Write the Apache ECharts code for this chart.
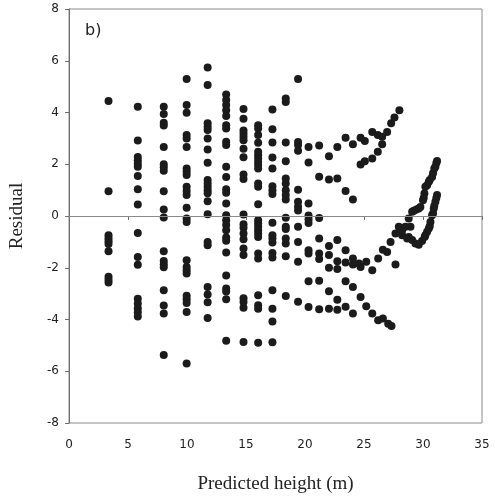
<!DOCTYPE html>
<html>
<head>
<meta charset="utf-8">
<script src="https://cdn.jsdelivr.net/npm/echarts@6/dist/echarts.min.js"></script>
<style>
  html, body { margin: 0; padding: 0; background: #fff; }
  #chart { width: 495px; height: 499px; }
</style>
</head>
<body>
<div id="chart"></div>
<script>
// Predicted heights of the discrete stand classes and their residuals (m)
const stripHeights = [3.35, 5.83, 8.03, 9.97, 11.75, 13.32, 14.79, 16.03, 17.24, 18.37, 19.41, 20.3, 21.2, 22.03, 22.74];
const stripResiduals = [
  [4.44, 0.96, -0.74, -0.86, -0.98, -1.08, -1.36, -2.35, -2.46, -2.57],
  [4.22, 2.92, 2.28, 2.15, 2.02, 1.9, 1.55, 1.03, 0.44, -0.66, -1.58, -1.88, -3.2, -3.38, -3.57, -3.72, -3.88],
  [4.22, 3.94, 3.6, 3.5, 2.67, 2.0, 1.88, 1.75, 0.96, 0.25, -0.06, -1.36, -1.74, -1.86, -1.98, -2.87, -3.46, -3.77, -5.37],
  [5.29, 4.29, 3.99, 3.13, 3.0, 2.67, 1.84, 1.71, 1.58, 1.13, 0.97, 0.81, 0.32, -0.1, -0.23, -1.71, -1.97, -2.1, -2.22, -3.08, -3.22, -3.36, -3.71, -5.7],
  [5.74, 5.06, 3.58, 3.45, 3.32, 3.0, 2.57, 2.06, 1.39, 1.26, 1.13, 1.0, 0.88, 0.57, 0.07, -1.0, -1.13, -2.74, -3.03, -3.33, -3.94],
  [4.7, 4.48, 4.29, 4.09, 3.86, 3.51, 3.38, 2.87, 2.74, 1.9, 1.51, 1.03, 0.9, 0.48, 0.03, -0.16, -0.35, -0.55, -0.83, -0.96, -1.41, -2.3, -2.8, -2.92, -3.22, -4.82],
  [4.14, 3.76, 3.3, 3.18, 3.05, 2.93, 2.6, 2.27, 1.6, 1.43, 0.06, -0.32, -0.45, -0.68, -0.9, -1.26, -1.51, -3.18, -3.32, -3.55, -4.87],
  [3.51, 3.38, 3.13, 2.83, 2.48, 2.35, 2.22, 2.09, 1.97, 1.84, 1.26, 1.13, 0.45, -0.16, -0.29, -0.42, -0.55, -0.68, -0.81, -1.45, -1.64, -3.06, -3.45, -3.58, -4.9],
  [4.12, 3.35, 2.84, 2.26, 1.84, 1.15, 1.0, 0.85, -0.26, -0.74, -0.87, -1.02, -1.43, -1.6, -2.87, -3.58, -4.08, -4.88],
  [4.54, 4.41, 2.84, 2.12, 1.45, 1.26, 1.0, 0.81, 0.64, -0.07, -0.42, -0.5, -0.87, -1.06, -1.56, -3.09],
  [5.29, 2.86, 2.74, 2.52, 1.01, 0.55, 0.36, 0.21, -0.42, -1.0, -1.77, -3.31],
  [2.67, 2.07, 0.48, 0.02, -0.13, -0.27, -1.32, -1.45, -2.52, -3.52],
  [2.72, 1.52, -0.08, -0.87, -1.45, -1.66, -2.5, -3.6],
  [2.31, 1.41, -1.16, -1.51, -2.0, -2.91, -3.58],
  [2.67, 1.45, -0.93, -1.75, -2.05, -3.24, -3.62]
];

// Taller trees: residual trails as [predicted height, residual]
const upperFan = [
  [23.44, 3.02], [24.06, 2.77], [24.71, 3.02], [25.07, 2.9], [25.7, 3.25], [26.17, 3.13],
  [26.54, 3.06], [26.96, 3.25], [27.3, 3.58], [27.58, 3.81], [28.0, 4.09],
  [24.71, 1.99], [25.07, 2.12], [25.7, 2.22], [26.17, 2.48], [26.54, 2.77],
  [23.44, 0.97], [24.06, 0.64]
];
const middleBand = [
  [23.44, -1.32], [23.44, -1.8], [24.06, -1.64], [24.06, -1.87], [24.57, -1.84], [24.71, -1.97],
  [25.19, -1.77], [25.7, -2.1], [26.2, -1.64], [26.6, -1.3], [26.96, -1.39], [27.25, -1.0],
  [27.67, -1.87]
];
const lowerBand = [
  [23.44, -2.52], [24.06, -2.74], [24.71, -3.13], [25.19, -3.49], [25.7, -3.77], [26.2, -4.03],
  [26.6, -3.96], [27.05, -4.16], [27.33, -4.25],
  [23.44, -3.51], [24.06, -3.77]
];
const tallCluster = [
  [27.67, -0.68], [27.95, -0.42], [28.09, -0.55], [28.23, -0.74], [28.23, -0.55], [28.51, -0.42],
  [28.66, -0.87], [28.79, -0.1], [28.79, -0.81], [28.94, -0.42], [29.08, 0.16], [29.08, -0.93],
  [29.22, 0.2], [29.36, -1.06], [29.44, 0.25]
];
const upperArm = [
  [29.64, 0.29], [29.78, 0.35], [30.0, 0.61], [30.06, 0.7], [30.12, 0.87], [30.2, 1.13],
  [30.35, 1.19], [30.49, 1.32], [30.57, 1.39], [30.77, 1.51], [30.85, 1.65], [30.96, 1.84],
  [31.05, 1.9], [31.13, 2.05], [31.19, 2.13]
];
const lowerArm = [
  [29.64, -1.11], [29.92, -0.97], [30.14, -0.81], [30.2, -0.74], [30.35, -0.61], [30.49, -0.48],
  [30.57, -0.4], [30.63, -0.23], [30.77, 0.03], [30.85, 0.1], [30.91, 0.29], [30.96, 0.4],
  [31.05, 0.55], [31.13, 0.7], [31.19, 0.81]
];

const xTicks = { min: 0, max: 35, step: 5 };
const yTicks = { min: -8, max: 8, step: 2 };

const points = [];
stripHeights.forEach((h, i) => stripResiduals[i].forEach(r => points.push([h, r])));
[upperFan, middleBand, lowerBand, tallCluster, upperArm, lowerArm].forEach(g => g.forEach(p => points.push(p)));

const axisGrey = '#6f6f6f';
const chart = echarts.init(document.getElementById('chart'));
chart.setOption({
  animation: false,
  backgroundColor: '#ffffff',
  grid: { left: 68, top: 9, width: 414, height: 414, show: true, borderColor: '#8a8a8a', borderWidth: 1, backgroundColor: 'transparent' },
  xAxis: {
    type: 'value', min: xTicks.min, max: xTicks.max, interval: xTicks.step,
    name: 'Predicted height (m)', nameLocation: 'middle', nameGap: 52,
    nameTextStyle: { fontFamily: 'Liberation Serif', fontSize: 19, color: '#222' },
    axisLine: { show: true, lineStyle: { color: axisGrey, width: 1 } },
    axisTick: { show: true, inside: false, length: 4, lineStyle: { color: axisGrey } },
    axisLabel: { fontFamily: 'DejaVu Sans', fontSize: 12, color: '#1e1e1e', margin: 16 },
    splitLine: { show: false }
  },
  yAxis: {
    type: 'value', min: yTicks.min, max: yTicks.max, interval: yTicks.step,
    name: 'Residual', nameLocation: 'middle', nameGap: 42,
    nameTextStyle: { fontFamily: 'Liberation Serif', fontSize: 19, color: '#222' },
    axisLine: { show: true, lineStyle: { color: axisGrey, width: 1 } },
    axisTick: { show: true, inside: false, length: 4, lineStyle: { color: axisGrey } },
    axisLabel: { fontFamily: 'DejaVu Sans', fontSize: 12, color: '#1e1e1e', margin: 10 },
    splitLine: { show: false }
  },
  graphic: [{
    type: 'text', left: 85, top: 23,
    style: { text: 'b)', fontFamily: 'DejaVu Sans', fontSize: 16, fill: '#222' }
  }],
  series: [{
    type: 'scatter',
    data: points,
    symbol: 'circle',
    symbolSize: 8,
    itemStyle: { color: '#1b1b1b', opacity: 1 },
    markLine: {
      silent: true, symbol: 'none', label: { show: false },
      lineStyle: { color: '#8a8a8a', width: 1, type: 'solid' },
      data: [{ yAxis: 0 }]
    },
    z: 3
  }]
});
</script>
</body>
</html>
